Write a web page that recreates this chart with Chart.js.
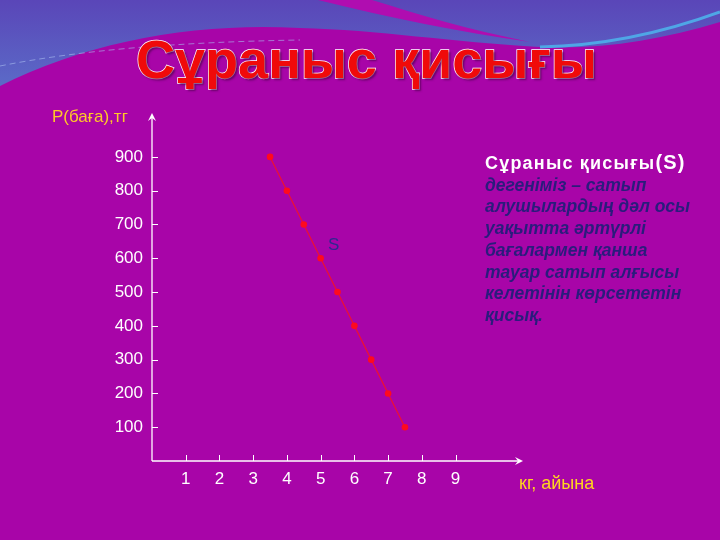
<!DOCTYPE html>
<html>
<head>
<meta charset="utf-8">
<script src="https://cdn.jsdelivr.net/npm/chart.js@4.4.1/dist/chart.umd.min.js"></script>
<style>
  html, body { margin: 0; padding: 0; width: 720px; height: 540px; overflow: hidden; background: #A805A8; }
  #wrap { position: absolute; left: 0; top: 0; width: 720px; height: 540px; }
  canvas { position: absolute; left: 0; top: 0; }
  .t { position: absolute; white-space: nowrap; font-family: "Liberation Sans", Arial, sans-serif; }
  #title { left: 0; width: 733px; text-align: center; top: 32px; font-size: 54px; line-height: 54px; font-weight: bold;
           color: #F00A0A; -webkit-text-stroke: 1.4px #ffffff; paint-order: stroke fill;
           text-shadow: 2px 2px 2px rgba(60,0,60,0.55); }
  #ylab { left: 52px; top: 108px; font-size: 17px; line-height: 18px; color: #FFC928; }
  #xlab { left: 519px; top: 474px; font-size: 18px; line-height: 18px; color: #FFD51E; }
  #slab { left: 328px; top: 236px; font-size: 17px; line-height: 18px; color: #2E2890; }
  #desc { left: 485px; top: 152px; font-size: 17.5px; line-height: 21.7px; }
  #desc .h { color: #ffffff; font-weight: bold; font-size: 18px; letter-spacing: 1.2px; }
  #desc .h span { font-size: 20px; }
  #desc .b { color: #2A1C7C; font-weight: bold; font-style: italic; }
</style>
</head>
<body>
<div id="wrap">
  <canvas id="c" width="720" height="540"></canvas>
  <div class="t" id="title">Сұраныс қисығы</div>
  <div class="t" id="ylab">Р(баға),тг</div>
  <div class="t" id="xlab">кг, айына</div>
  <div class="t" id="slab">S</div>
  <div class="t" id="desc"><span class="h">Сұраныс қисығы<span>(S)</span></span><br><span class="b">дегеніміз – сатып<br>алушылардың дәл осы<br>уақытта әртүрлі<br>бағалармен қанша<br>тауар сатып алғысы<br>келетінін көрсететін<br>қисық.</span></div>
</div>
<script>
// ---- data ----
const quantities = [3.5, 4, 4.5, 5, 5.5, 6, 6.5, 7, 7.5];       // кг, айына
const prices     = [900, 800, 700, 600, 500, 400, 300, 200, 100]; // Р(баға),тг
const xTickValues = [1, 2, 3, 4, 5, 6, 7, 8, 9];
const yTickValues = [100, 200, 300, 400, 500, 600, 700, 800, 900];

const points = quantities.map((q, i) => ({ x: q, y: prices[i] }));

const bgPlugin = {
  id: 'bg',
  beforeDraw(chart) {
    const ctx = chart.ctx;
    ctx.save();
    ctx.fillStyle = '#A805A8';
    ctx.fillRect(0, 0, 720, 540);
    // blue top region
    const g = ctx.createLinearGradient(0, 0, 0, 90);
    g.addColorStop(0, '#5A46B8');
    g.addColorStop(1, '#5B6CC8');
    ctx.fillStyle = g;
    ctx.beginPath();
    ctx.moveTo(0, 0);
    ctx.lineTo(720, 0);
    ctx.lineTo(720, 22);
    ctx.bezierCurveTo(660, 40, 600, 50, 540, 47);
    ctx.bezierCurveTo(450, 42, 380, 30, 300, 28);
    ctx.bezierCurveTo(200, 22, 90, 40, 0, 86);
    ctx.closePath();
    ctx.fill();
    // magenta swoosh at top
    ctx.fillStyle = '#B00DB0';
    ctx.beginPath();
    ctx.moveTo(318, 0);
    ctx.lineTo(372, 0);
    ctx.bezierCurveTo(420, 15, 470, 30, 530, 42);
    ctx.bezierCurveTo(460, 32, 390, 18, 318, 0);
    ctx.closePath();
    ctx.fill();
    // light blue thin line on the right
    ctx.strokeStyle = '#4FA6E6';
    ctx.lineWidth = 3;
    ctx.beginPath();
    ctx.moveTo(720, 12);
    ctx.bezierCurveTo(660, 34, 600, 46, 540, 47);
    ctx.stroke();
    // faint dashed line
    ctx.strokeStyle = 'rgba(170,190,240,0.6)';
    ctx.lineWidth = 1;
    ctx.setLineDash([6, 4]);
    ctx.beginPath();
    ctx.moveTo(0, 66);
    ctx.bezierCurveTo(80, 50, 180, 42, 300, 40);
    ctx.stroke();
    ctx.setLineDash([]);
    ctx.restore();
  }
};

const axesPlugin = {
  id: 'axes',
  beforeDatasetsDraw(chart) {
    const ctx = chart.ctx;
    const xs = chart.scales.x, ys = chart.scales.y;
    const a = chart.chartArea;
    ctx.save();
    ctx.strokeStyle = '#ffffff';
    ctx.fillStyle = '#ffffff';
    ctx.lineWidth = 1.3;
    // y axis
    ctx.beginPath();
    ctx.moveTo(a.left, a.bottom);
    ctx.lineTo(a.left, a.top + 2);
    ctx.stroke();
    ctx.beginPath();
    ctx.moveTo(a.left, a.top);
    ctx.lineTo(a.left - 4, a.top + 8);
    ctx.lineTo(a.left, a.top + 5);
    ctx.lineTo(a.left + 4, a.top + 8);
    ctx.closePath();
    ctx.fill();
    // x axis
    ctx.beginPath();
    ctx.moveTo(a.left, a.bottom);
    ctx.lineTo(a.right - 2, a.bottom);
    ctx.stroke();
    ctx.beginPath();
    ctx.moveTo(a.right, a.bottom);
    ctx.lineTo(a.right - 8, a.bottom - 4);
    ctx.lineTo(a.right - 5, a.bottom);
    ctx.lineTo(a.right - 8, a.bottom + 4);
    ctx.closePath();
    ctx.fill();
    // tick marks (inside)
    ctx.lineWidth = 1;
    yTickValues.forEach(v => {
      const y = Math.round(ys.getPixelForValue(v)) + 0.5;
      ctx.beginPath(); ctx.moveTo(a.left, y); ctx.lineTo(a.left + 6, y); ctx.stroke();
    });
    xTickValues.forEach(v => {
      const x = Math.round(xs.getPixelForValue(v)) + 0.5;
      ctx.beginPath(); ctx.moveTo(x, a.bottom); ctx.lineTo(x, a.bottom - 6); ctx.stroke();
    });
    ctx.restore();
  }
};

new Chart(document.getElementById('c'), {
  type: 'scatter',
  data: {
    datasets: [{
      data: points,
      showLine: true,
      borderColor: '#F01030',
      borderWidth: 1.2,
      backgroundColor: '#FF0A1E',
      pointBackgroundColor: '#FF0A1E',
      pointBorderColor: '#FF0A1E',
      pointRadius: 3.3,
      pointBorderWidth: 0,
      tension: 0
    }]
  },
  options: {
    responsive: false,
    animation: false,
    devicePixelRatio: 1,
    layout: { padding: { left: 0, top: 113, right: 197, bottom: 0 } },
    plugins: { legend: { display: false }, tooltip: { enabled: false }, title: { display: false } },
    scales: {
      x: {
        type: 'linear', min: 0, max: 11,
        afterBuildTicks: s => { s.ticks = xTickValues.map(v => ({ value: v })); },
        afterFit: s => { s.height = 79; },
        grid: { display: false, drawTicks: false },
        border: { display: false },
        ticks: { color: '#ffffff', padding: 8, font: { family: 'Liberation Sans', size: 17 }, maxRotation: 0 }
      },
      y: {
        type: 'linear', min: 0, max: 1030,
        afterBuildTicks: s => { s.ticks = yTickValues.map(v => ({ value: v })); },
        afterFit: s => { s.width = 152; },
        grid: { display: false, drawTicks: false },
        border: { display: false },
        ticks: { color: '#ffffff', padding: 9, font: { family: 'Liberation Sans', size: 17 } }
      }
    }
  },
  plugins: [bgPlugin, axesPlugin]
});
</script>
</body>
</html>
